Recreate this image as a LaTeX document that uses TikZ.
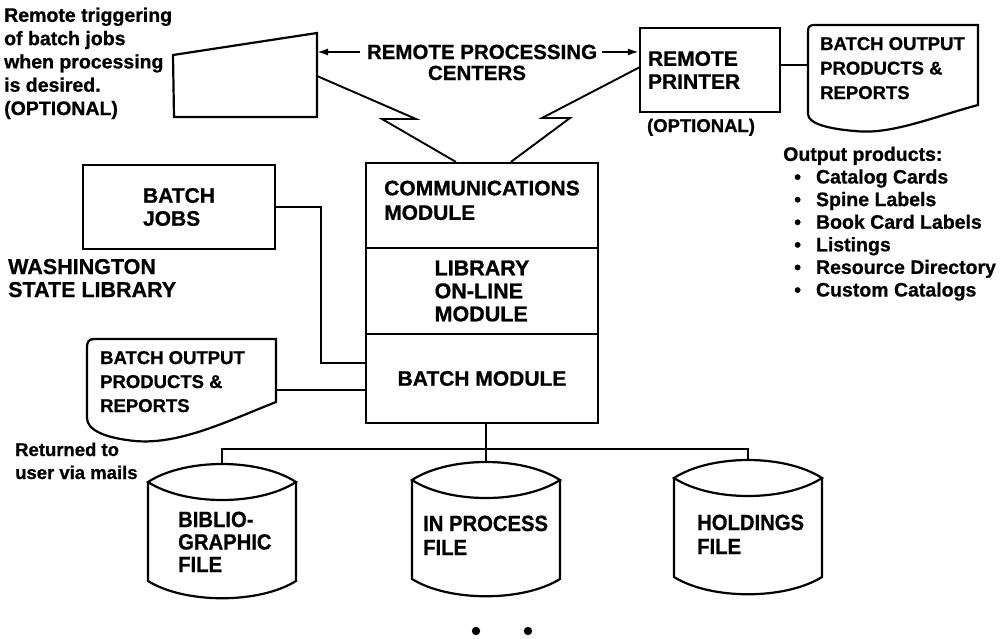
\documentclass[tikz,border=0pt]{standalone}
\usepackage{fontspec}
\setmainfont{Liberation Sans}[BoldFeatures={FakeBold=0.8}]
\newfontfamily\drumfont{Liberation Sans}[FakeStretch=0.92, BoldFeatures={FakeBold=0.8}]
\usetikzlibrary{arrows.meta}
\newcommand\setsz[2]{\fontsize{#1}{#2}\selectfont\bfseries}

\tikzset{
  shapeline/.style={line width=2.2pt, line join=miter},
  link/.style={line width=1.9pt},
  arr/.style={line width=1.9pt, -{Latex[length=11pt,width=7pt]}},
  box/.style={draw, line width=2.2pt, inner sep=0pt, align=left},
  txt/.style={inner sep=0pt, align=left},
  pics/drum/.style={code={
    % lens-shaped top
    \draw[shapeline] (-74,0) .. controls (-37,-24) and (37,-24) .. (74,0)
                             .. controls (37,24) and (-37,24) .. (-74,0) -- cycle;
    % body with curved bottom
    \draw[shapeline] (-74,0) -- (-74,99) .. controls (-37,122) and (37,122) .. (74,99) -- (74,0);
    \coordinate (-top) at (0,-18);
  }},
}

\begin{document}
\begin{tikzpicture}[x=1pt,y=-1pt]
\fill[white] (0,0) rectangle (1006,638);
\useasboundingbox (0,0) rectangle (1006,638);

% ---- remote terminal and remote processing centres ----
% (multi-line texts are placed by the baseline of their last line)
\node[txt, anchor=base west, font=\setsz{19.5}{23.3}] (trig) at (4,115)
  {Remote triggering\\of batch jobs\\when processing\\is desired.\\(OPTIONAL)};

\draw[shapeline] (173,55) -- (317,33) -- (317,117) -- (174,117) -- cycle;
\coordinate (term-in) at (317,52);
\coordinate (term-link) at (317,76);

\node[txt, anchor=base, font=\setsz{20.5}{24}] (rpc) at (482,59) {REMOTE PROCESSING};
\node[txt, anchor=base, font=\setsz{20.5}{24}] (centers) at (477,80) {CENTERS};

\node[box, minimum width=140pt, minimum height=84pt, text width=124pt, inner xsep=8pt,
      font=\setsz{21}{23}] (printer) at (710,70) {REMOTE\\PRINTER};
\node[txt, anchor=base, font=\setsz{18.5}{22}] (opt) at (701,132) {(OPTIONAL)};

\draw[arr, shorten <=7pt] (rpc.west) -- (term-in);
\draw[arr, shorten <=5pt] (rpc.east) -- (rpc.east -| printer.west);

% ---- output document at the printer ----
\draw[shapeline] (808,114) -- (808,31) .. controls (808,27) and (810,25) .. (814,25)
  -- (978,25) -- (978,105)
  .. controls (930,118) and (890,135) .. (855,131)
  .. controls (830,129) and (808,124) .. (808,114);
\coordinate (docR-in) at (808,65);
\node[txt, anchor=base west, font=\setsz{18.5}{24.5}] (outR) at (820,99)
  {BATCH OUTPUT\\PRODUCTS \&\\REPORTS};
\draw[link] (printer.east |- docR-in) -- (docR-in);

\node[txt, anchor=base west, font=\setsz{19.5}{22.6}] (prods) at (783,296.5)
  {Output products:\\
   \hspace*{11pt}\textbullet\hspace{15pt}Catalog Cards\\
   \hspace*{11pt}\textbullet\hspace{15pt}Spine Labels\\
   \hspace*{11pt}\textbullet\hspace{15pt}Book Card Labels\\
   \hspace*{11pt}\textbullet\hspace{15pt}Listings\\
   \hspace*{11pt}\textbullet\hspace{15pt}Resource Directory\\
   \hspace*{11pt}\textbullet\hspace{15pt}Custom Catalogs};

% ---- central system: three stacked modules ----
\node[box, minimum width=232pt, minimum height=85pt, font=\setsz{21}{24.5}] (comm)
  at (482,205.5) {COMMUNICATIONS\\MODULE\\[-14pt]};
\node[box, minimum width=232pt, minimum height=86pt, font=\setsz{21.5}{23}] (online)
  at (482,291) {LIBRARY\\ON-LINE\\MODULE};
\node[box, minimum width=232pt, minimum height=89pt, font=\setsz{21}{24}] (batch)
  at (482,378.5) {BATCH MODULE};

\coordinate (commL) at ([xshift=91pt]comm.north west);
\coordinate (commR) at ([xshift=146pt]comm.north west);
\coordinate (prt-link) at (640,67);

% communication lines
\draw[link] (term-link) -- (416,119) -- (382,119) -- (commL);
\draw[link] (prt-link) -- (542,118) -- (570,118) -- (commR);

% ---- Washington State Library side ----
\node[box, minimum width=192pt, minimum height=84pt, font=\setsz{21}{23}] (jobs)
  at (179,207) {BATCH\\JOBS};
\node[txt, anchor=base west, font=\setsz{21.5}{23}] (wsl) at (8,297)
  {WASHINGTON\\STATE LIBRARY};

\coordinate (bm-in) at (366,363);
\draw[link] (jobs.east) -- ++(45,0) |- (bm-in);

\draw[shapeline] (87,418) -- (87,347) .. controls (87,342) and (89,339) .. (94,339)
  -- (276,339) -- (276,402)
  .. controls (230,420) and (180,445) .. (135,441)
  .. controls (105,438) and (87,430) .. (87,418);
\coordinate (docL-out) at (276,390);
\node[txt, anchor=base west, font=\setsz{18.5}{24}] (outL) at (100,412)
  {BATCH OUTPUT\\PRODUCTS \&\\REPORTS};
\draw[link] (docL-out) -- (docL-out -| batch.west);

\node[txt, anchor=base west, font=\setsz{18.5}{23}] (ret) at (15,479)
  {Returned to\\user via mails};

% ---- data files ----
\pic (bib) at (222,482) {drum};
\pic (inproc) at (486,480) {drum};
\pic (hold) at (748,478) {drum};

\node[txt, anchor=base west, font=\drumfont\setsz{22}{22.5}] (bibtxt) at (178,572)
  {BIBLIO-\\GRAPHIC\\FILE};
\node[txt, anchor=base west, font=\drumfont\setsz{22}{24}] (inproctxt) at (423,555)
  {IN PROCESS\\FILE};
\node[txt, anchor=base west, font=\drumfont\setsz{22}{24}] (holdtxt) at (697,554)
  {HOLDINGS\\FILE};

\coordinate (bus) at (486,449);
\draw[link] (inproc-top |- batch.south) -- (inproc-top);
\draw[link] (bib-top) |- (bus) -| (hold-top);

% continuation dots
\fill (476,631) circle (4.2) coordinate (dotA);
\fill (528,631) circle (4.2) coordinate (dotB);
\end{tikzpicture}
\end{document}
